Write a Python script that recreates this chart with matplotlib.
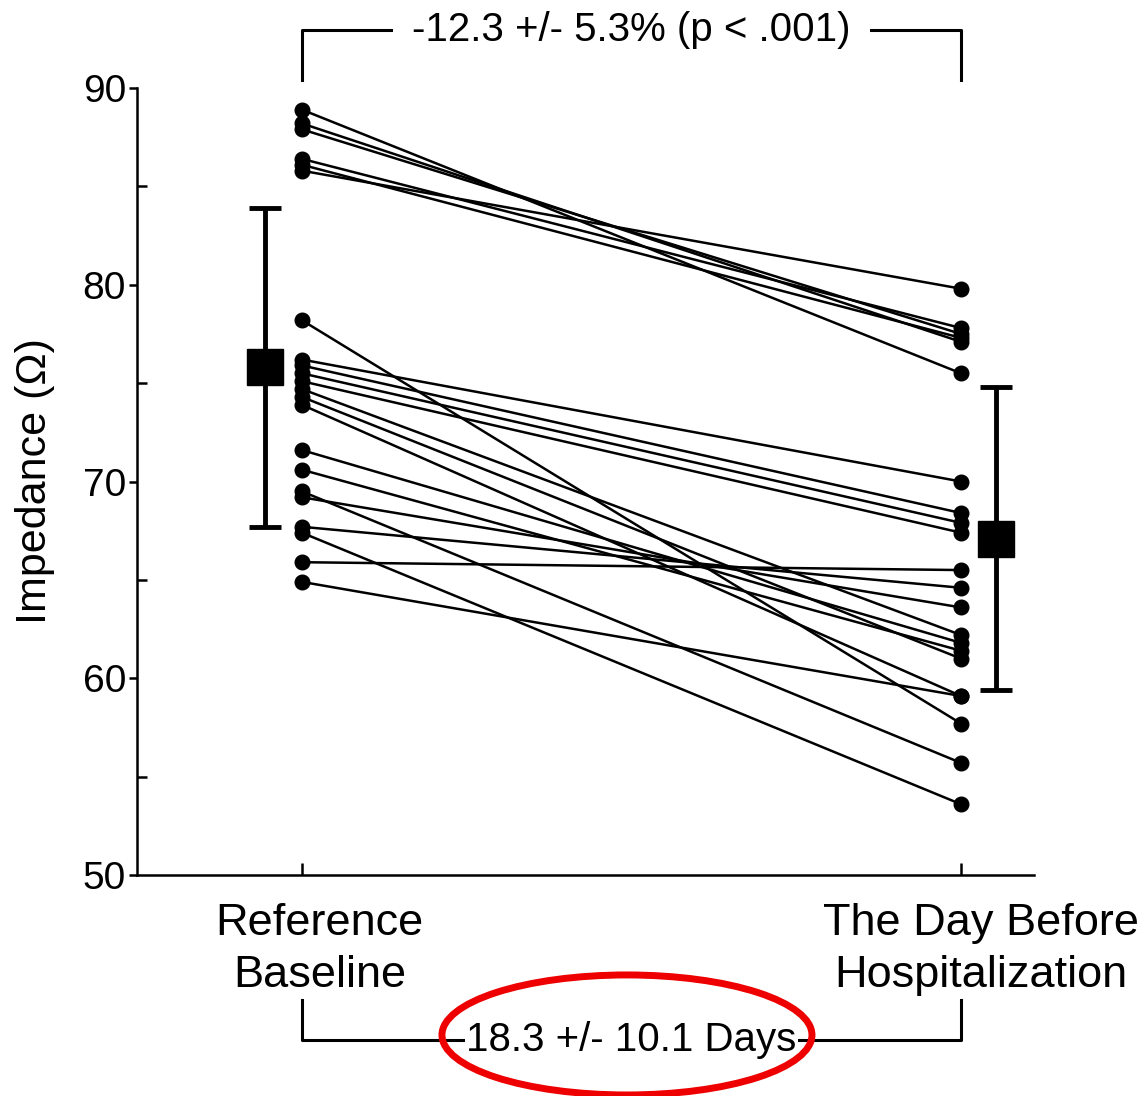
import matplotlib.pyplot as plt
from matplotlib.patches import Ellipse
import matplotlib.transforms as mtransforms

plt.rcParams['font.family'] = ['Liberation Sans', 'DejaVu Sans']

# impedance per patient (ohm)
baseline = [88.9, 88.2, 87.9, 86.4, 86.1, 85.8,
            78.2, 76.2, 75.9, 75.5, 75.1, 74.7, 74.3, 73.9,
            71.6, 70.6, 69.5, 69.2, 67.7, 67.4, 65.9, 64.9]
day_before = [75.5, 77.1, 77.5, 77.8, 77.3, 79.8,
              57.7, 70.0, 68.4, 67.9, 67.4, 62.2, 61.0, 59.1,
              61.8, 61.4, 55.7, 63.6, 64.6, 53.6, 65.5, 59.1]

group_means = [75.8, 67.1]
group_sds = [8.1, 7.7]
group_labels = ['Reference\nBaseline', 'The Day Before\nHospitalization']
change_text = '-12.3 +/- 5.3% (p < .001)'
gap_text = '18.3 +/- 10.1 Days'

fig = plt.figure(figsize=(11.42, 10.96), dpi=100)
ax = fig.add_axes([0.12, 0.2016, 0.785, 0.7181])

for b, d in zip(baseline, day_before):
    ax.plot([0, 1], [b, d], color='black', lw=1.8, marker='o', ms=10.5,
            solid_capstyle='butt', zorder=3)

# mean +/- SD markers, slightly offset from the patient columns
ax.errorbar([-0.056, 1.053], group_means, yerr=group_sds, fmt='s', color='black',
            ms=26, elinewidth=3.5, capsize=11.5, capthick=3.5, zorder=4)

ax.set_xlim(-0.25, 1.11)
ax.set_ylim(50, 90)
ax.set_yticks([50, 60, 70, 80, 90])
ax.set_yticks([55, 65, 75, 85], minor=True)
ax.tick_params(axis='y', which='major', direction='out', length=6, width=1.8,
               labelsize=28, pad=2)
ax.tick_params(axis='y', which='minor', direction='in', length=7, width=1.8)
ax.set_xticks([0, 1])
ax.set_xticklabels(['', ''])
ax.tick_params(axis='x', direction='in', length=9, width=1.8)

for s in ['top', 'right']:
    ax.spines[s].set_visible(False)
for s in ['left', 'bottom']:
    ax.spines[s].set_linewidth(1.8)

ax.set_ylabel('Impedance (\u03a9)', fontsize=31, labelpad=20)

trans = mtransforms.blended_transform_factory(ax.transData, ax.transAxes)
ax.text(0.027, -0.036, group_labels[0], transform=trans, ha='center', va='top',
        fontsize=32.5, linespacing=1.32)
ax.text(1.03, -0.036, group_labels[1], transform=trans, ha='center', va='top',
        fontsize=32.5, linespacing=1.32)

# top bracket
ax.plot([0, 0, 1, 1], [1.010, 1.0737, 1.0737, 1.010], color='black', lw=2.2,
        transform=trans, clip_on=False)
ax.text(0.5, 1.0737, change_text, transform=trans, ha='center', va='center',
        fontsize=29, bbox=dict(facecolor='white', edgecolor='none', pad=14))

# bottom bracket
ax.plot([0, 0, 1, 1], [-0.159, -0.2097, -0.2097, -0.159], color='black', lw=2.2,
        transform=trans, clip_on=False)
ax.text(0.5, -0.2097, gap_text, transform=trans, ha='center', va='center',
        fontsize=29, bbox=dict(facecolor='white', edgecolor='none', pad=1))

ell = Ellipse((0.549, 0.0557), 0.324, 0.1095, transform=fig.transFigure,
              fill=False, edgecolor='#ee0000', lw=5)
fig.patches.append(ell)

fig.savefig('out.png', dpi=100)
